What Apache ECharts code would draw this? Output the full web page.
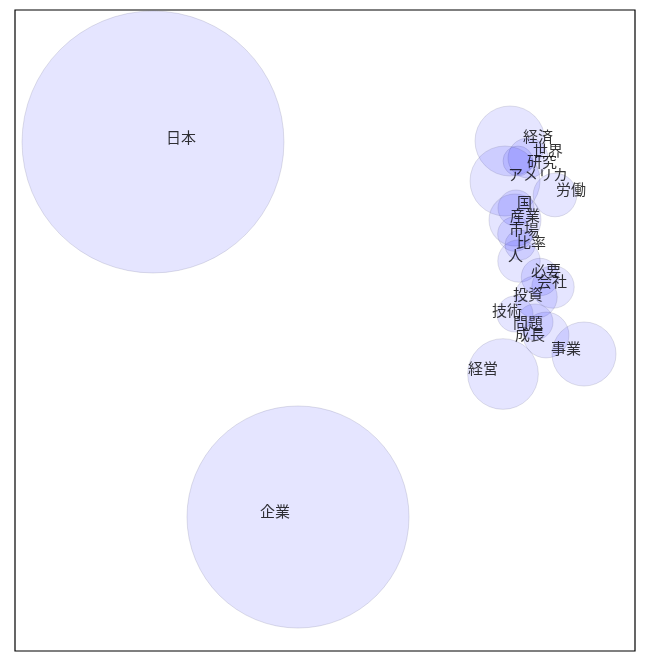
<!DOCTYPE html>
<html><head><meta charset="utf-8">
<script src="https://cdn.jsdelivr.net/npm/echarts@6/dist/echarts.min.js"></script>
<style>html,body{margin:0;padding:0;background:#fff}#c{width:660px;height:660px}</style>
</head><body><div id="c"></div>
<script>
const words = ["日本","企業","経済","世界","研究","アメリカ","労働","国","産業","市場","比率","人","必要","会社","投資","技術","問題","成長","事業","経営"];
const posX = [138,283,495,513,503,490,540,501,500,500,505,504,525,538,521,500,520,531,569,488];
const posY = [132,507,131,148,151,171,185,198,210,224,235,251,267,277,287,304,312,325,344,364];
const weight = [686,493,49,16,9,49,19,13,27,12,9,18,14,18,18,13,13,21,41,50];
const labelX = [151,245,508,518,512,493,541,502,495,494,501,493,516,522,498,477,498,500,536,453];
const labelY = [127,501,126,140,151,164,179,192,205,219,232,245,260,271,284,300,312,324,338,358];

const chart = echarts.init(document.getElementById('c'));
const font = '"Noto Sans CJK JP", "Noto Sans", sans-serif';
chart.setOption({
  animation:false,
  backgroundColor:'#fff',
  grid:{left:15,top:10,width:620,height:641,show:true,borderColor:'#000',borderWidth:1.2,backgroundColor:'transparent',containLabel:false},
  xAxis:{type:'value',min:0,max:620,show:false},
  yAxis:{type:'value',min:0,max:641,inverse:true,show:false},
  series:[
    {type:'scatter',
     data:words.map((w,i)=>[posX[i],posY[i],weight[i]]),
     symbolSize:v=>Math.sqrt(v[2])*10,
     itemStyle:{color:'rgba(0,0,255,0.1)',borderColor:'rgba(70,70,110,0.16)',borderWidth:1,opacity:1},
     silent:true,z:1},
    {type:'scatter',
     data:words.map((w,i)=>({value:[labelX[i],labelY[i]],name:w})),
     symbolSize:0,
     label:{show:true,position:[0,0],align:'left',verticalAlign:'middle',formatter:p=>p.name,
       color:'#000',fontSize:15,fontFamily:font},
     silent:true,z:5}
  ]
});
</script></body></html>
